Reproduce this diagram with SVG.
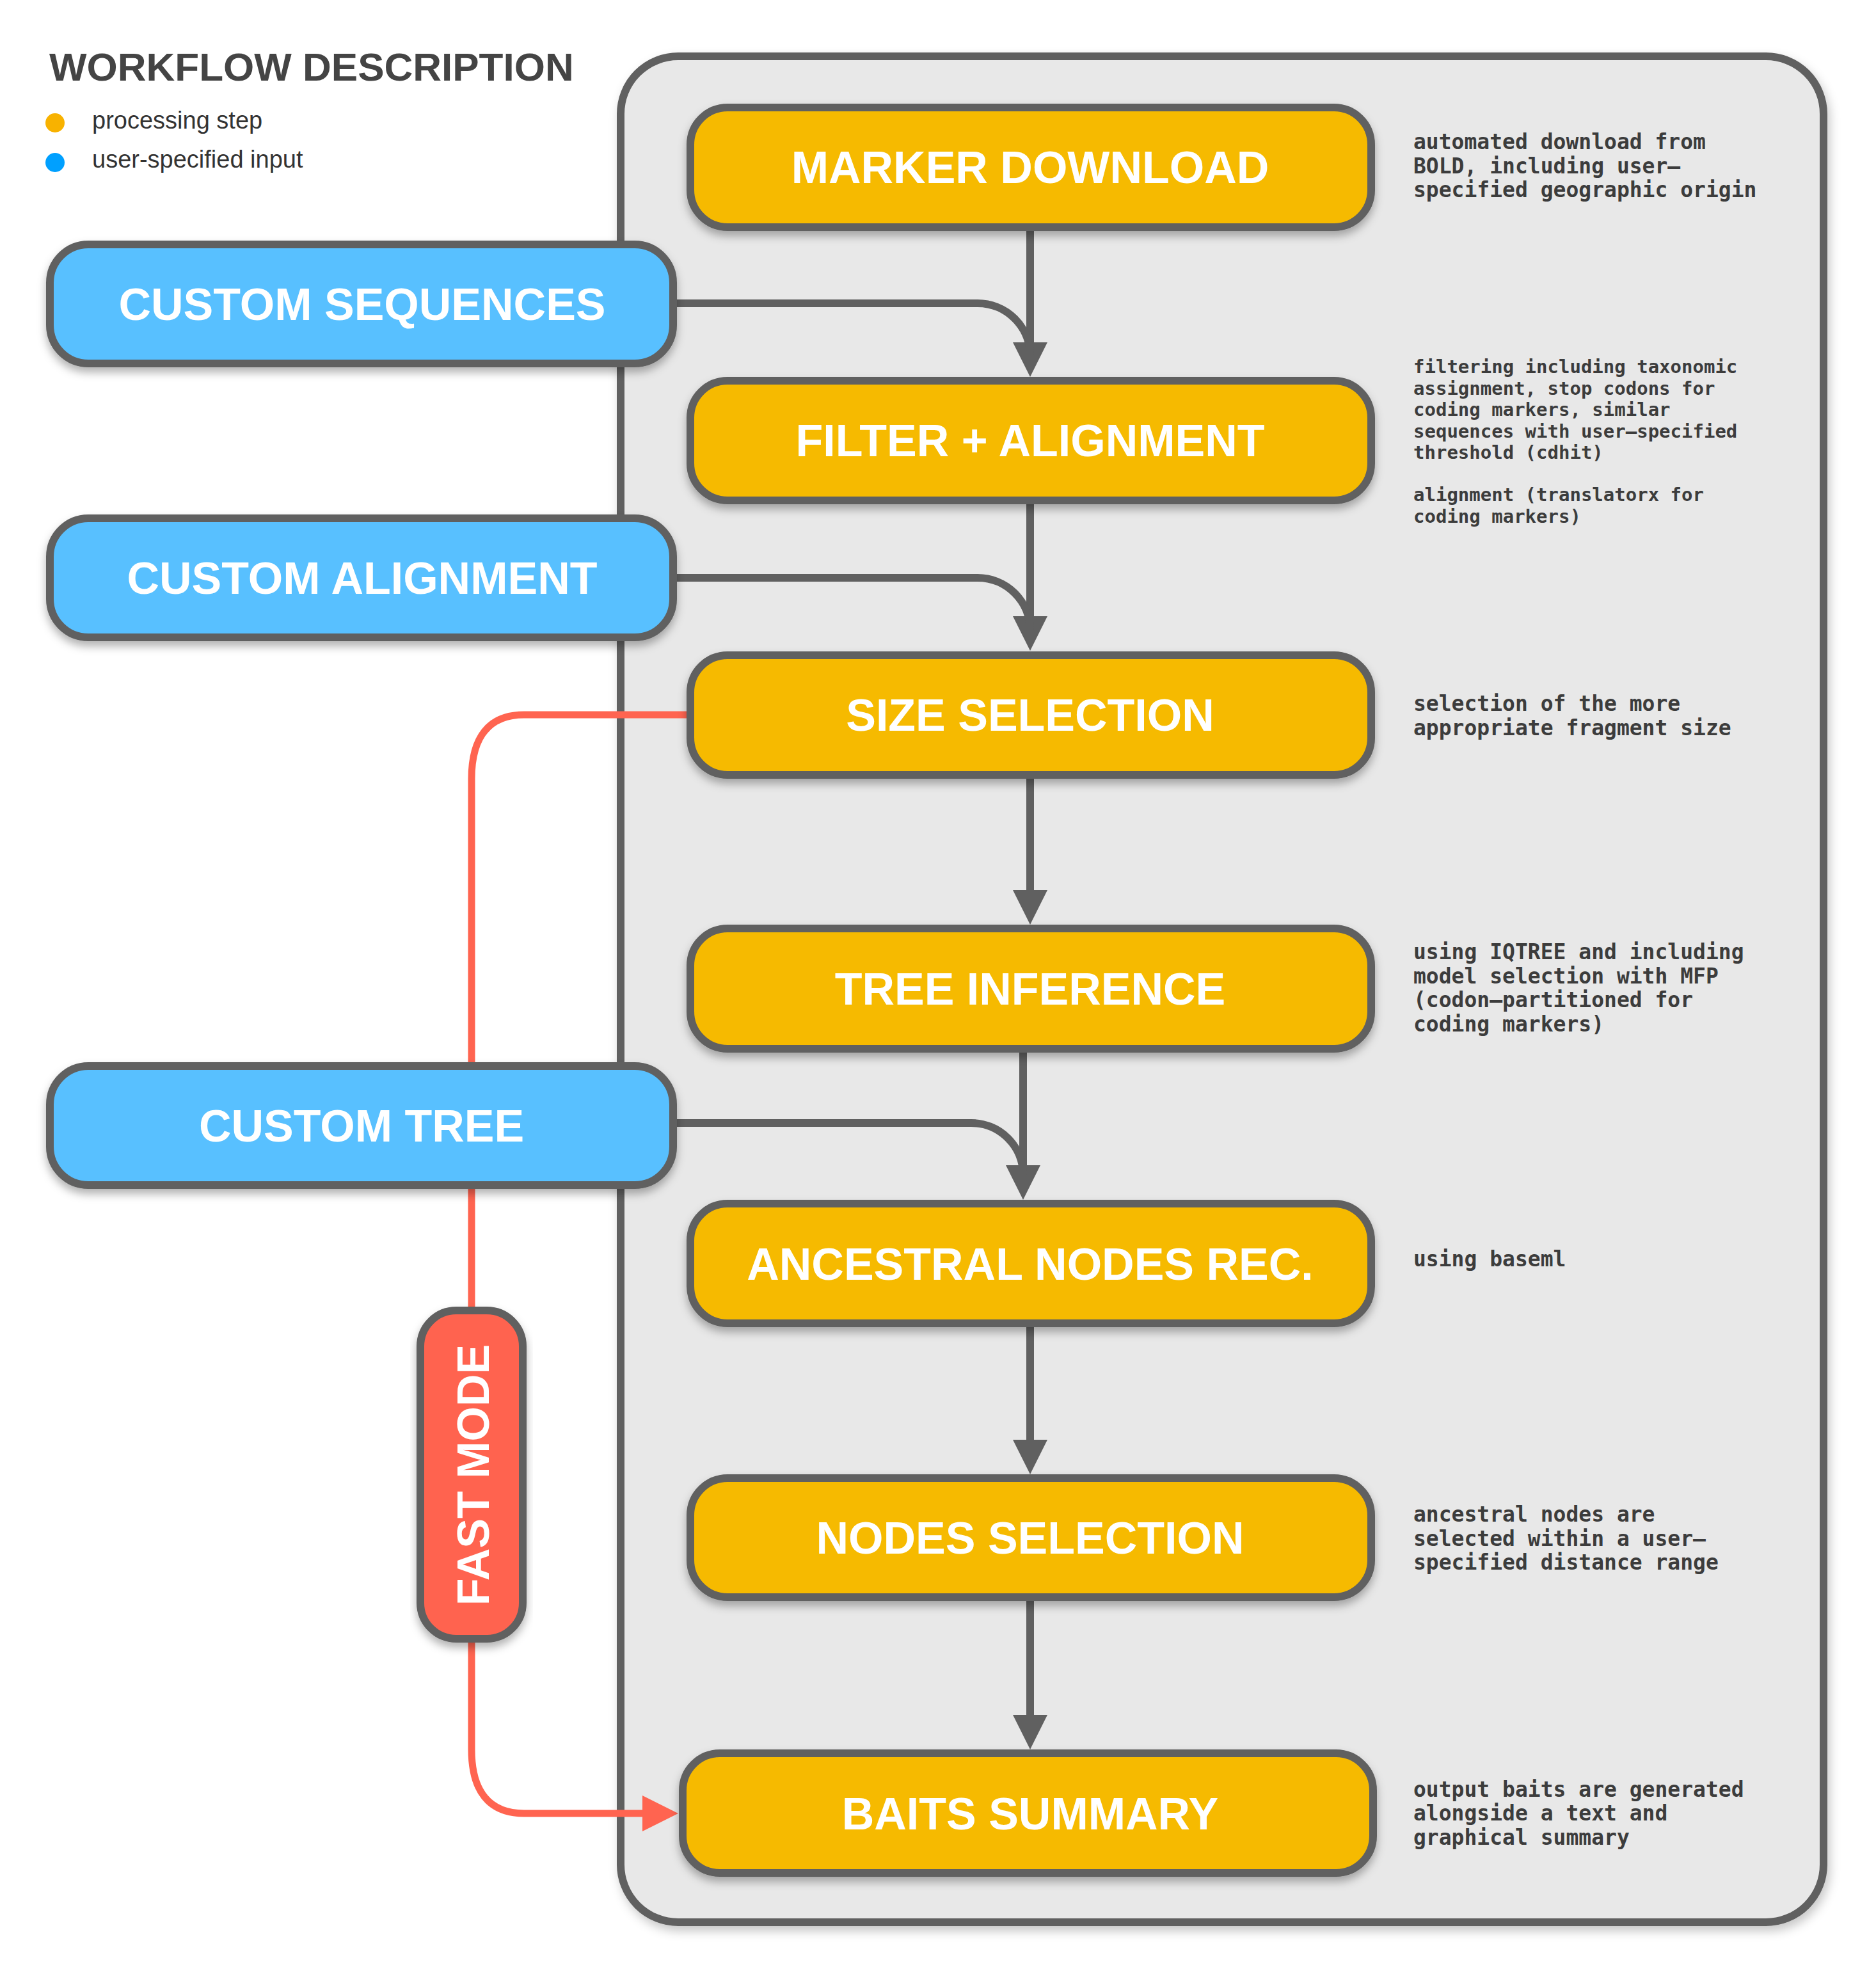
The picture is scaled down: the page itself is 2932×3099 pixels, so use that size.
<svg xmlns="http://www.w3.org/2000/svg" width="2932" height="3099" viewBox="0 0 2932 3099">
<defs>
<filter id="sh" x="-10%" y="-10%" width="120%" height="130%">
<feDropShadow dx="0" dy="8" stdDeviation="7" flood-color="#000" flood-opacity="0.3"/>
</filter>
<filter id="shc" x="-5%" y="-5%" width="110%" height="110%">
<feDropShadow dx="4" dy="8" stdDeviation="8" flood-color="#000" flood-opacity="0.22"/>
</filter>
<marker id="ag" markerUnits="userSpaceOnUse" markerWidth="54" markerHeight="54" refX="42" refY="27" orient="auto" viewBox="0 0 54 54">
<path d="M0,0 L54,27 L0,54 Z" fill="#606060"/>
</marker>
<marker id="ar" markerUnits="userSpaceOnUse" markerWidth="56" markerHeight="56" refX="43" refY="28" orient="auto" viewBox="0 0 56 56">
<path d="M0,0 L56,28 L0,56 Z" fill="#FF6450"/>
</marker>
</defs>
<style>
.proc{fill:#F6BA00;stroke:#606060;stroke-width:12;filter:url(#sh)}
.inp{fill:#58C0FF;stroke:#606060;stroke-width:12;filter:url(#sh)}
.fast{fill:#FF6450;stroke:#606060;stroke-width:12;filter:url(#sh)}
.lbl{font-family:"Liberation Sans",Arial,sans-serif;font-weight:bold;font-size:70px;fill:#fff;text-anchor:middle}
.desc{font-family:"DejaVu Sans Mono","Liberation Mono",monospace;font-weight:bold;font-size:33px;fill:#3c3c3c}
.desc2{font-family:"DejaVu Sans Mono","Liberation Mono",monospace;font-weight:bold;font-size:29px;fill:#3c3c3c}
.gl{fill:none;stroke:#606060;stroke-width:12}
.rl{fill:none;stroke:#FF6450;stroke-width:11}
.leg{font-family:"Liberation Sans",Arial,sans-serif;font-size:38px;fill:#333}
</style>
<rect width="2932" height="3099" fill="#fff"/>

<g id="legend">
<text x="77" y="126" font-family="Liberation Sans, Arial, sans-serif" font-weight="bold" font-size="62" fill="#444">WORKFLOW DESCRIPTION</text>
<circle cx="86" cy="192" r="15" fill="#F8B200"/>
<text class="leg" x="144" y="201">processing step</text>
<circle cx="86" cy="254" r="15" fill="#00A0FF"/>
<text class="leg" x="144" y="262">user-specified input</text>
</g>

<g id="container">
<rect x="970" y="88" width="1880" height="2916" rx="90" fill="#E8E8E8" stroke="#606060" stroke-width="12" filter="url(#shc)"/>
</g>

<g id="connectors">
<path class="gl" d="M1610,355 V577" marker-end="url(#ag)"/>
<path class="gl" d="M1610,782 V1005" marker-end="url(#ag)"/>
<path class="gl" d="M1610,1212 V1433" marker-end="url(#ag)"/>
<path class="gl" d="M1599,1640 V1863" marker-end="url(#ag)"/>
<path class="gl" d="M1610,2069 V2292" marker-end="url(#ag)"/>
<path class="gl" d="M1610,2497 V2722" marker-end="url(#ag)"/>
<path class="gl" d="M1040,474 H1528 A82,82 0 0 1 1610,556 V572"/>
<path class="gl" d="M1040,903 H1528 A82,82 0 0 1 1610,985 V1000"/>
<path class="gl" d="M1040,1755 H1518 A81,81 0 0 1 1599,1836 V1850"/>
<path class="rl" d="M1085,1117 H819 C764,1117 737,1152 737,1217 V2734 C737,2799 764,2834 819,2834 H1047" marker-end="url(#ar)"/>
</g>

<g id="marker-download">
<rect class="proc" x="1079" y="168" width="1064" height="187" rx="58"/>
<text class="lbl" x="1610" y="286">MARKER DOWNLOAD</text>
</g>
<g id="filter-alignment">
<rect class="proc" x="1079" y="595" width="1064" height="187" rx="58"/>
<text class="lbl" x="1610" y="713">FILTER + ALIGNMENT</text>
</g>
<g id="size-selection">
<rect class="proc" x="1079" y="1024" width="1064" height="187" rx="58"/>
<text class="lbl" x="1610" y="1142">SIZE SELECTION</text>
</g>
<g id="tree-inference">
<rect class="proc" x="1079" y="1451" width="1064" height="188" rx="58"/>
<text class="lbl" x="1610" y="1570">TREE INFERENCE</text>
</g>
<g id="ancestral-nodes">
<rect class="proc" x="1079" y="1881" width="1064" height="187" rx="58"/>
<text class="lbl" x="1610" y="2000">ANCESTRAL NODES REC.</text>
</g>
<g id="nodes-selection">
<rect class="proc" x="1079" y="2310" width="1064" height="186" rx="58"/>
<text class="lbl" x="1610" y="2428">NODES SELECTION</text>
</g>
<g id="baits-summary">
<rect class="proc" x="1067" y="2740" width="1079" height="187" rx="58"/>
<text class="lbl" x="1610" y="2859">BAITS SUMMARY</text>
</g>

<g id="custom-sequences">
<rect class="inp" x="78" y="382" width="974" height="186" rx="60"/>
<text class="lbl" x="566" y="500">CUSTOM SEQUENCES</text>
</g>
<g id="custom-alignment">
<rect class="inp" x="78" y="810" width="974" height="186" rx="60"/>
<text class="lbl" x="566" y="928">CUSTOM ALIGNMENT</text>
</g>
<g id="custom-tree">
<rect class="inp" x="78" y="1666" width="974" height="186" rx="60"/>
<text class="lbl" x="565" y="1784">CUSTOM TREE</text>
</g>
<g id="fast-mode">
<rect class="fast" x="657" y="2048" width="160" height="513" rx="56"/>
<text class="lbl" transform="translate(764,2305) rotate(-90)" x="0" y="0">FAST MODE</text>
</g>

<g id="descriptions">
<text class="desc"><tspan x="2209" y="233">automated download from</tspan><tspan x="2209" y="271">BOLD, including user–</tspan><tspan x="2209" y="308">specified geographic origin</tspan></text>
<text class="desc2"><tspan x="2209" y="583">filtering including taxonomic</tspan><tspan x="2209" y="617">assignment, stop codons for</tspan><tspan x="2209" y="650">coding markers, similar</tspan><tspan x="2209" y="684">sequences with user–specified</tspan><tspan x="2209" y="717">threshold (cdhit)</tspan><tspan x="2209" y="783">alignment (translatorx for</tspan><tspan x="2209" y="817">coding markers)</tspan></text>
<text class="desc"><tspan x="2209" y="1111">selection of the more</tspan><tspan x="2209" y="1149">appropriate fragment size</tspan></text>
<text class="desc"><tspan x="2209" y="1499">using IQTREE and including</tspan><tspan x="2209" y="1537">model selection with MFP</tspan><tspan x="2209" y="1574">(codon–partitioned for</tspan><tspan x="2209" y="1612">coding markers)</tspan></text>
<text class="desc" x="2209" y="1979">using baseml</text>
<text class="desc"><tspan x="2209" y="2378">ancestral nodes are</tspan><tspan x="2209" y="2416">selected within a user–</tspan><tspan x="2209" y="2453">specified distance range</tspan></text>
<text class="desc"><tspan x="2209" y="2808">output baits are generated</tspan><tspan x="2209" y="2845">alongside a text and</tspan><tspan x="2209" y="2883">graphical summary</tspan></text>
</g>
</svg>
